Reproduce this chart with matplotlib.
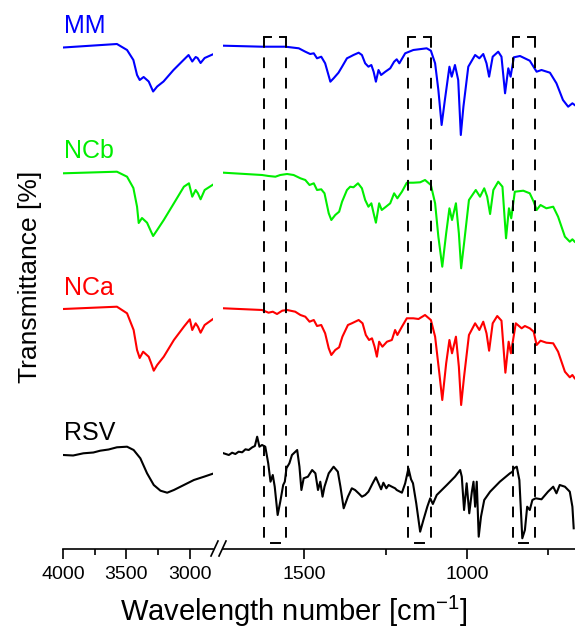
import matplotlib
matplotlib.use("Agg")
import matplotlib.pyplot as plt
from matplotlib.lines import Line2D

plt.rcParams["font.family"] = ["Liberation Sans", "DejaVu Sans"]
plt.rcParams["mathtext.default"] = "regular"

# --- spectra: wavenumber [cm-1] and relative signal (0 = flat baseline)
# high-wavenumber window (4000 - 2800)
mm_wn_hi = [3998, 3574, 3494, 3444, 3415, 3394, 3363, 3323, 3288, 3256, 3206, 3127,
            3048, 3008, 2979, 2952, 2937, 2913, 2881, 2810]
mm_hi = [0, 3.5, -2.5, -12.5, -27.5, -32.5, -29.5, -34, -44, -39, -34, -22.5,
         -12.5, -7.5, -14, -9.5, -10.5, -15.5, -10.5, -6.5]

ncb_wn_hi = [3998, 3574, 3494, 3444, 3415, 3402, 3376, 3336, 3304, 3288, 3256, 3204,
             3124, 3045, 3005, 2979, 2952, 2934, 2913, 2881, 2807]
ncb_hi = [0, 1.6, -3.4, -14.7, -33.4, -49.7, -44.7, -49.4, -58.4, -62.7, -56.7, -46.7,
          -30, -13.4, -10, -23.4, -16.7, -20, -26, -16.7, -10.7]

nca_wn_hi = [3998, 3574, 3494, 3442, 3415, 3394, 3367, 3323, 3304, 3283, 3256, 3204,
             3124, 3045, 2998, 2979, 2952, 2934, 2913, 2881, 2807]
nca_hi = [0, 2.3, -4.3, -21, -41, -49, -42.7, -47.7, -54, -61.7, -56, -47.7,
          -31, -17.7, -10.3, -21, -14.3, -17.7, -23.7, -16, -9.3]

rsv_wn_hi = [3998, 3920, 3839, 3760, 3706, 3640, 3574, 3494, 3442, 3389, 3336, 3283,
             3230, 3177, 3124, 3045, 2966, 2886, 2807]
rsv_hi = [0, -0.5, 1.7, 2.5, 4.3, 5.5, 7.7, 8.3, 5, -3.3, -18.3, -30,
          -35.7, -37.7, -35, -30, -25, -21.7, -18.3]

# fingerprint window (1750 - 670)
mm_wn_lo = [1748, 1630, 1558, 1517, 1497, 1482, 1471, 1461, 1448, 1436, 1420, 1410,
            1395, 1384, 1369, 1359, 1349, 1333, 1323, 1313, 1303, 1294, 1287, 1280,
            1272, 1264, 1251, 1236, 1224, 1216, 1208, 1190, 1165, 1124, 1111, 1098,
            1088, 1078, 1068, 1054, 1047, 1037, 1027, 1019, 1011, 996, 975, 962,
            950, 940, 932, 921, 904, 894, 883, 873, 866, 856, 837, 807, 786, 771,
            745, 725, 705, 689, 676, 669]
mm_lo = [1.8, 0.8, 0.8, -0.8, -4.2, -6.5, -5.8, -10.8, -9.2, -15.8, -34.2, -30.8,
         -25.2, -19.2, -10.8, -9.2, -7.5, -5.2, -7.5, -15.8, -19.2, -17.5, -24.2, -34.2,
         -22.5, -27.5, -24.2, -20.8, -14.2, -11.8, -15.8, -5.8, -2.5, -0.8, -3.2, -15.8,
         -42.5, -77.5, -52.5, -19.2, -29.2, -17.5, -32.5, -87.5, -59.2, -19.2, -7.5, -10.8,
         -6.5, -15.8, -29.2, -9.2, -4.2, -9.2, -45.8, -20.8, -29.2, -9.8, -8.5, -13.2, -24.2, -22.5,
         -25.2, -35.8, -52.5, -59.2, -55.8, -57.5]

ncb_wn_lo = [1748, 1630, 1610, 1589, 1574, 1553, 1533, 1512, 1497, 1484, 1471, 1461,
             1448, 1438, 1425, 1417, 1405, 1393, 1384, 1369, 1359, 1349, 1335, 1323,
             1313, 1303, 1294, 1287, 1280, 1270, 1262, 1249, 1236, 1224, 1214, 1200,
             1185, 1165, 1144, 1129, 1111, 1098, 1088, 1076, 1064, 1054, 1046, 1034,
             1025, 1018, 1009, 994, 973, 960, 947, 938, 929, 919, 904, 891,
             880, 871, 864, 853, 827, 807, 795, 786, 774, 756, 735, 720,
             699, 684, 676, 669]
ncb_lo = [0.6, -1.7, -2.7, -3.4, -1.7, -0.7, -1.7, -5, -6.7, -11.7, -10, -16.7,
          -16, -20, -40, -46.7, -41.7, -38.4, -28.4, -16.7, -13.4, -14, -10, -15,
          -26.7, -33.4, -30, -40, -49.4, -30, -36.7, -33.4, -30, -20, -25, -18.4,
          -9.4, -9.4, -9, -6.7, -11.7, -30, -63.4, -93.4, -60, -35, -46.7, -30,
          -60, -95, -70, -26.7, -16.7, -23.4, -15, -23.4, -40.7, -16.7, -8.4, -13.4,
          -65, -35, -45, -18.4, -17.4, -20, -28.4, -36.7, -31.7, -35, -33.4, -43.4,
          -63.4, -68.4, -66, -68.4]

nca_wn_lo = [1748, 1630, 1610, 1597, 1584, 1568, 1553, 1528, 1512, 1497, 1484, 1471,
             1461, 1448, 1436, 1425, 1417, 1405, 1393, 1383, 1366, 1354, 1333, 1321,
             1311, 1301, 1292, 1284, 1277, 1270, 1260, 1246, 1231, 1221, 1214, 1200,
             1185, 1165, 1149, 1129, 1111, 1098, 1085, 1076, 1064, 1054, 1046, 1034,
             1025, 1018, 1009, 994, 975, 962, 950, 940, 932, 921, 907, 894,
             882, 872, 865, 850, 832, 822, 807, 795, 786, 774, 756, 735,
             720, 699, 684, 676, 669]
nca_lo = [0.7, -1, -3.7, -2.7, -5, -1.7, -1, -2.7, -6, -7.7, -12.7, -11,
          -17, -16, -24.3, -39.3, -46, -41, -38.3, -27.7, -16, -14.3, -11, -14.3,
          -26, -31, -29.3, -37.7, -47.7, -32.7, -37.7, -32.7, -31, -21, -26, -17.7,
          -9.3, -9.3, -10, -6, -11, -27.7, -64.3, -91, -54.3, -31, -44.3, -27.7,
          -57.7, -96, -67.7, -26, -14.3, -21, -12.7, -24.3, -41.7, -14.3, -7, -11.7,
          -63.7, -32.7, -44.3, -14.3, -19.3, -17, -19.3, -22.7, -36, -31.7, -33.7, -34.3,
          -42.7, -62.7, -68.3, -66, -69.3]

rsv_wn_lo = [1748, 1732, 1722, 1712, 1702, 1691, 1681, 1671, 1660, 1652, 1645, 1638,
             1630, 1620, 1611, 1604, 1597, 1591, 1582, 1574, 1565, 1560, 1555, 1546,
             1538, 1522, 1515, 1509, 1502, 1489, 1476, 1466, 1458, 1451, 1444, 1438,
             1425, 1410, 1397, 1389, 1379, 1366, 1354, 1344, 1331, 1323, 1313, 1303,
             1290, 1280, 1272, 1264, 1257, 1248, 1241, 1231, 1221, 1216, 1200, 1190,
             1180, 1172, 1166, 1156, 1144, 1134, 1122, 1113, 1105, 1093, 1062, 1037,
             1021, 1016, 1009, 1001, 993, 985, 980, 975, 970, 964, 957, 947,
             929, 899, 868, 860, 856, 847, 839, 830, 822, 815, 807, 799,
             789, 771, 751, 735, 725, 715, 699, 684, 676, 672]
rsv_lo = [1.7, 0, 2.3, 1, 3.3, 2.7, 5.7, 5, 7.7, 9, 18.3, 8.3,
          10, 8.3, -8.3, -26.7, -20, -31.7, -60, -46.7, -30, -26.7, -13.3, -8.3,
          0, 5, -11.7, -35, -23.3, -21.7, -15, -18.3, -35, -26.7, -41.7, -31.7,
          -18.3, -11.7, -16.7, -31.7, -53.3, -41.7, -33.3, -35, -39, -41.7, -40, -36.7,
          -28.3, -22.3, -28.3, -34.3, -27.7, -33.3, -30, -31.7, -33.3, -35, -37.7, -28.3,
          -13.3, -24.3, -28.3, -48.3, -76.7, -65, -51.7, -43.3, -49, -40, -30, -21.7,
          -15, -21.7, -55, -28.3, -58.3, -36.7, -26.7, -51.7, -26.7, -81.7, -61.7, -45,
          -36.7, -26.7, -18.3, -16.7, -13.3, -11.7, -25, -83.3, -75, -51.7, -55, -45,
          -43.3, -44.3, -36.7, -31.7, -38.3, -30, -31.7, -36.7, -51.7, -73.3]

names = ["MM", "NCb", "NCa", "RSV"]
colors = ["#0000ff", "#00ee00", "#ff0000", "#000000"]
offsets = [501.5, 375.7, 240, 94]
label_y = [516, 391, 254, 109]

# marked bands (cm-1)
bands = [(1624, 1555), (1182, 1111), (860, 792)]

hi = [(mm_wn_hi, mm_hi), (ncb_wn_hi, ncb_hi), (nca_wn_hi, nca_hi), (rsv_wn_hi, rsv_hi)]
lo = [(mm_wn_lo, mm_lo), (ncb_wn_lo, ncb_lo), (nca_wn_lo, nca_lo), (rsv_wn_lo, rsv_lo)]

W, H = 575, 632
fig = plt.figure(figsize=(W / 100, H / 100), dpi=100)
ax1 = fig.add_axes([63 / W, (H - 549) / H, 150 / W, 549 / H])
ax2 = fig.add_axes([223 / W, (H - 549) / H, 352 / W, 549 / H])

for (xh, yh), (xl, yl), off, c in zip(hi, lo, offsets, colors):
    ax1.plot(xh, [v + off for v in yh], color=c, lw=1.5, solid_joinstyle="round")
    ax2.plot(xl, [v + off for v in yl], color=c, lw=1.5, solid_joinstyle="round")

for name, c, ly in zip(names, colors, label_y):
    ax1.text(3990, ly, name, color=c, fontsize=18, va="baseline", ha="left")

# dashed frames around the marked bands
top, bot = 512, 8
box_kw = dict(color="black", lw=1.4, clip_on=False)
for a, b in bands:
    w = a - b
    for x in (a, b):
        ax2.plot([x, x], [top, bot], linestyle=(0, (5.5, 5)), **box_kw)
    ax2.plot([a, a - 0.3 * w], [top, top], **box_kw)
    ax2.plot([b + 0.3 * w, b], [top, top], **box_kw)
    ax2.plot([a - 0.3 * w, b + 0.3 * w], [bot - 2, bot - 2], **box_kw)

ax1.set_xlim(4000, 2815)
ax2.set_xlim(1750, 668)
for ax in (ax1, ax2):
    ax.set_ylim(0, 549)
    for s in ("top", "right", "left"):
        ax.spines[s].set_visible(False)
    ax.spines["bottom"].set_linewidth(1.2)
    ax.set_yticks([])
    ax.tick_params(axis="x", which="major", length=7, width=1.2, labelsize=14, pad=5)
    ax.tick_params(axis="x", which="minor", length=4, width=1.2)
    ax.patch.set_alpha(0)

ax1.set_xticks([4000, 3500, 3000])
ax1.set_xticks([3750, 3250], minor=True)
ax2.set_xticks([1500, 1000])
ax2.set_xticks([1250, 750], minor=True)

# axis break marks
for x0 in (211, 219):
    fig.add_artist(Line2D([x0 / W, (x0 + 7) / W], [(H - 556) / H, (H - 541) / H],
                          color="black", lw=1.2))

fig.text(294 / W, 11 / H, "Wavelength number [cm$^{-1}$]", ha="center", va="baseline",
         fontsize=21)
fig.text(30 / W, (H - 277) / H, "Transmittance [%]", rotation=90, ha="center",
         va="center", fontsize=19)

fig.savefig("out.png", dpi=100)
